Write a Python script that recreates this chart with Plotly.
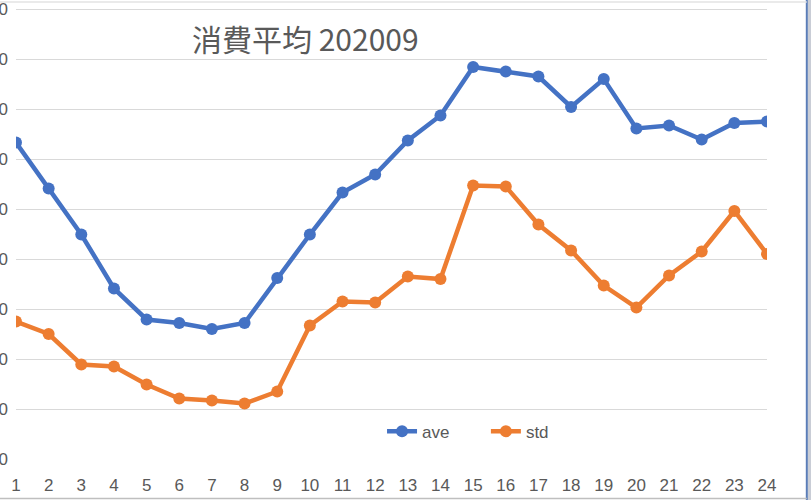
import plotly.graph_objects as go

hours = list(range(1, 25))
ave = [633, 541, 449, 341, 279, 272, 260, 272, 362, 449, 533, 569,
       637, 687, 784, 775, 765, 704, 760, 661, 667, 639, 672, 675]
std = [275, 250, 189, 185, 149, 121, 117, 111, 135, 267, 315, 313,
       365, 360, 547, 545, 469, 417, 347, 303, 367, 415, 496, 410]
y_ticks = [0, 100, 200, 300, 400, 500, 600, 700, 800, 900]
title_text = "消費平均 202009"

BLUE = "#4472C4"
ORANGE = "#ED7D31"
GRAY = "#595959"
FONT = "Liberation Sans"

fig = go.Figure()
fig.add_trace(go.Scatter(x=hours, y=ave, name="ave", mode="lines+markers",
                         line=dict(color=BLUE, width=4.5),
                         marker=dict(color=BLUE, size=12), legend="legend"))
fig.add_trace(go.Scatter(x=hours, y=std, name="std", mode="lines+markers",
                         line=dict(color=ORANGE, width=4.5),
                         marker=dict(color=ORANGE, size=12), legend="legend2"))

legend_common = dict(orientation="h", y=0.06, yanchor="middle",
                     bgcolor="rgba(0,0,0,0)", font=dict(size=17, color=GRAY))

fig.update_layout(
    width=811, height=500,
    margin=dict(l=16, r=44, t=5, b=41),
    paper_bgcolor="white", plot_bgcolor="white",
    font=dict(family=FONT, size=17, color=GRAY),
    showlegend=True,
    legend=dict(x=0.4874, xanchor="left", **legend_common),
    legend2=dict(x=0.6257, xanchor="left", **legend_common),
    xaxis=dict(range=[1, 24], tickvals=hours, ticktext=[str(h) for h in hours],
               showgrid=False, zeroline=False, showline=False, ticks="",
               automargin=False, ticklabelstandoff=14, ticklabeloverflow="allow",
               tickfont=dict(size=17, color=GRAY, family=FONT)),
    yaxis=dict(range=[0, 908], tickvals=y_ticks, ticktext=[str(v) for v in y_ticks],
               showgrid=True, gridcolor="#D9D9D9", gridwidth=1.2,
               zeroline=False, showline=False, ticks="",
               automargin=False, ticklabelstandoff=7, ticklabeloverflow="allow",
               tickfont=dict(size=17, color=GRAY, family=FONT)),
    annotations=[dict(text=title_text, xref="paper", yref="paper",
                      x=0.385, y=0.927, xanchor="center", yanchor="middle",
                      showarrow=False,
                      font=dict(family="Noto Sans CJK JP", size=30, color=GRAY))],
    shapes=[
        dict(type="rect", xref="paper", yref="paper", x0=1.054, x1=1.1, y0=-0.2, y1=1.1,
             fillcolor="#C9CDD6", line=dict(width=0), layer="above"),
        dict(type="line", xref="paper", yref="paper", x0=1.053, x1=1.053, y0=-0.2, y1=1.1,
             line=dict(color="#5B7DB8", width=2), layer="above"),
        dict(type="line", xref="paper", yref="paper", x0=-0.1, x1=1.053, y0=-0.087, y1=-0.087,
             line=dict(color="#BFBFBF", width=1.5), layer="above"),
        dict(type="line", xref="paper", yref="paper", x0=-0.1, x1=1.053, y0=1.0066, y1=1.0066,
             line=dict(color="#E3E3E3", width=1.5), layer="above"),
    ],
)

fig.write_html("out.html",
               config={"displayModeBar": False},
               post_script="document.body.style.margin='0';document.body.style.overflow='hidden';")
